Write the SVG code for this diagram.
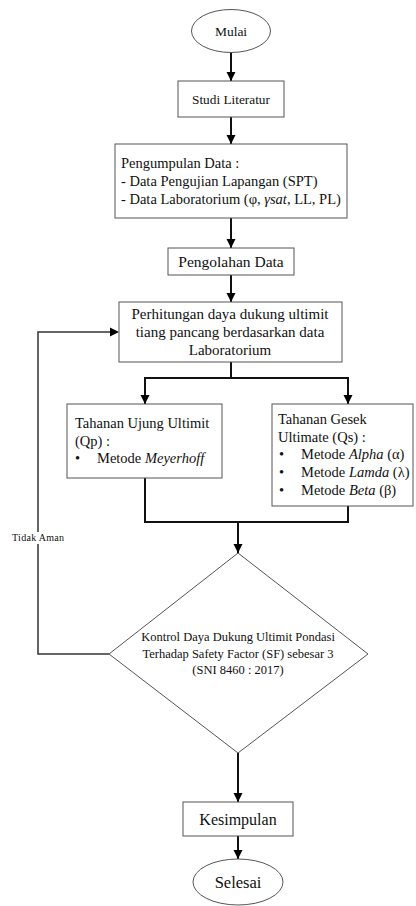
<svg xmlns="http://www.w3.org/2000/svg" width="416" height="906" viewBox="0 0 416 906">
<defs>
<marker id="ah" markerWidth="10" markerHeight="10" refX="9" refY="5" orient="auto" markerUnits="userSpaceOnUse">
<path d="M0,0.5 L9,5 L0,9.5 Z" fill="#000"/>
</marker>
</defs>
<style>
.box{fill:#fff;stroke:#555;stroke-width:1}
text{font-family:'Liberation Serif','Times New Roman',serif;fill:#111}
.c{stroke:#111;stroke-width:2;fill:none}
.ca{stroke:#111;stroke-width:2;fill:none;marker-end:url(#ah)}
.loop{stroke:#333;stroke-width:1.5;fill:none}
</style>
<rect width="416" height="906" fill="#fff"/>
<g id="connectors">
<line class="ca" x1="231" y1="52" x2="231" y2="81"/>
<line class="ca" x1="231" y1="117" x2="231" y2="144"/>
<line class="ca" x1="231" y1="218" x2="231" y2="248"/>
<line class="ca" x1="231" y1="275" x2="231" y2="302"/>
<path class="c" d="M231 362 V378 M144 378 H349"/>
<line class="ca" x1="145" y1="378" x2="145" y2="404"/>
<line class="ca" x1="348" y1="378" x2="348" y2="404"/>
<path class="c" d="M145 478 V522 H348 V506"/>
<line class="ca" x1="238" y1="522" x2="238" y2="553"/>
<line class="ca" x1="238" y1="753" x2="238" y2="802"/>
<line class="ca" x1="238" y1="836" x2="238" y2="859"/>
<path class="loop" d="M109 654 H38 V332 H110"/>
<path d="M110,327.5 L119,332 L110,336.5 Z" fill="#000"/>
<rect x="11" y="532" width="55" height="12" fill="#fff"/>
<text x="12" y="541" font-size="10" letter-spacing="0.3">Tidak Aman</text>
</g>
<g id="mulai">
<ellipse class="box" cx="231" cy="31" rx="39.5" ry="21.5"/>
<text x="231" y="36" font-size="13.5" text-anchor="middle">Mulai</text>
</g>
<g id="studi">
<rect class="box" x="178" y="81" width="106" height="36"/>
<text x="231" y="104" font-size="13.3" text-anchor="middle">Studi Literatur</text>
</g>
<g id="pengumpulan">
<rect class="box" x="115" y="144" width="232" height="74"/>
<text x="121" y="168" font-size="14.5">Pengumpulan Data :</text>
<text x="121" y="186" font-size="14.5">- Data Pengujian Lapangan (SPT)</text>
<text x="121" y="204" font-size="14.5">- Data Laboratorium (φ, <tspan font-style="italic">γsat</tspan>, LL, PL)</text>
</g>
<g id="pengolahan">
<rect class="box" x="168" y="248" width="126" height="27"/>
<text x="231" y="267" font-size="15.5" text-anchor="middle">Pengolahan Data</text>
</g>
<g id="perhitungan">
<rect class="box" x="119" y="302" width="223" height="60"/>
<text x="230" y="319" font-size="15" text-anchor="middle">Perhitungan daya dukung ultimit</text>
<text x="230" y="337" font-size="15" text-anchor="middle">tiang pancang berdasarkan data</text>
<text x="230" y="355" font-size="15" text-anchor="middle">Laboratorium</text>
</g>
<g id="tahanan-ujung">
<rect class="box" x="67" y="404" width="155" height="74"/>
<text x="75" y="428" font-size="14.5">Tahanan Ujung Ultimit</text>
<text x="75" y="446" font-size="14.5">(Qp) :</text>
<text x="75" y="463" font-size="14.5">•</text>
<text x="97" y="463" font-size="14.5">Metode <tspan font-style="italic">Meyerhoff</tspan></text>
</g>
<g id="tahanan-gesek">
<rect class="box" x="272" y="404" width="141" height="102"/>
<text x="278" y="424" font-size="14.5">Tahanan Gesek</text>
<text x="278" y="442" font-size="14.5">Ultimate (Qs) :</text>
<text x="279" y="459" font-size="14.5">•</text>
<text x="301" y="459" font-size="14.5">Metode <tspan font-style="italic">Alpha</tspan> (α)</text>
<text x="279" y="477" font-size="14.5">•</text>
<text x="301" y="477" font-size="14.5">Metode <tspan font-style="italic">Lamda</tspan> (λ)</text>
<text x="279" y="495" font-size="14.5">•</text>
<text x="301" y="495" font-size="14.5">Metode <tspan font-style="italic">Beta</tspan> (β)</text>
</g>
<g id="kontrol">
<polygon class="box" points="238,553 368,654 238,753 109,654"/>
<text x="238" y="641" font-size="12.5" text-anchor="middle">Kontrol Daya Dukung Ultimit Pondasi</text>
<text x="238" y="658" font-size="12.5" text-anchor="middle">Terhadap Safety Factor (SF) sebesar 3</text>
<text x="238" y="674" font-size="12.5" text-anchor="middle">(SNI 8460 : 2017)</text>
</g>
<g id="kesimpulan">
<rect class="box" x="183" y="802" width="110" height="34"/>
<text x="238" y="825" font-size="16" text-anchor="middle">Kesimpulan</text>
</g>
<g id="selesai">
<ellipse class="box" cx="238" cy="882" rx="45" ry="23"/>
<text x="238" y="888" font-size="16.5" text-anchor="middle">Selesai</text>
</g>
</svg>
